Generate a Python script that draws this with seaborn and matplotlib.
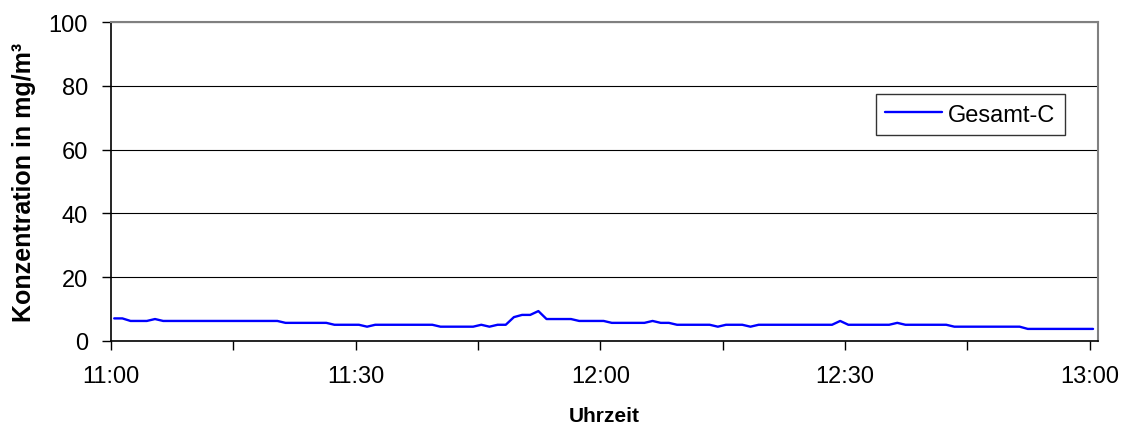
import numpy as np
import pandas as pd
import matplotlib
matplotlib.use("Agg")
import matplotlib.pyplot as plt
import matplotlib.dates as mdates
import seaborn as sns

# Gesamt-C readings, one per minute from 11:00:24 on
gesamt_c = [7.0, 7.0, 6.2, 6.2, 6.2, 6.8, 6.2, 6.2, 6.2, 6.2,
            6.2, 6.2, 6.2, 6.2, 6.2, 6.2, 6.2, 6.2, 6.2, 6.2,
            6.2, 5.6, 5.6, 5.6, 5.6, 5.6, 5.6, 5.0, 5.0, 5.0,
            5.0, 4.4, 5.0, 5.0, 5.0, 5.0, 5.0, 5.0, 5.0, 5.0,
            4.4, 4.4, 4.4, 4.4, 4.4, 5.0, 4.4, 5.0, 5.0, 7.4,
            8.1, 8.1, 9.3, 6.8, 6.8, 6.8, 6.8, 6.2, 6.2, 6.2,
            6.2, 5.6, 5.6, 5.6, 5.6, 5.6, 6.2, 5.6, 5.6, 5.0,
            5.0, 5.0, 5.0, 5.0, 4.4, 5.0, 5.0, 5.0, 4.4, 5.0,
            5.0, 5.0, 5.0, 5.0, 5.0, 5.0, 5.0, 5.0, 5.0, 6.2,
            5.0, 5.0, 5.0, 5.0, 5.0, 5.0, 5.6, 5.0, 5.0, 5.0,
            5.0, 5.0, 5.0, 4.4, 4.4, 4.4, 4.4, 4.4, 4.4, 4.4,
            4.4, 4.4, 3.7, 3.7, 3.7, 3.7, 3.7, 3.7, 3.7, 3.7,
            3.7]
start = "2000-01-01 11:00:24"
x_start = "2000-01-01 11:00"
x_end = "2000-01-01 13:01"
y_ticks = [0, 20, 40, 60, 80, 100]

times = pd.date_range(start, periods=len(gesamt_c), freq="1min")
df = pd.DataFrame({"Uhrzeit": times, "Gesamt-C": gesamt_c})

sns.set_style("white", {"text.color": "black", "axes.labelcolor": "black",
                        "xtick.color": "black", "ytick.color": "black"})
plt.rcParams['font.family'] = ['Liberation Sans', 'DejaVu Sans']

fig = plt.figure(figsize=(11.38, 4.35), dpi=100)
ax = fig.add_axes([0.0975, 0.2145, 0.8673, 0.732])

sns.lineplot(data=df, x="Uhrzeit", y="Gesamt-C", color="#0000FF",
             linewidth=1.7, label="Gesamt-C", ax=ax)

ax.set_xlim(pd.Timestamp(x_start), pd.Timestamp(x_end))
ax.set_ylim(0, 100)
ax.set_yticks(y_ticks)
ax.xaxis.set_major_locator(mdates.MinuteLocator(byminute=[0, 30]))
ax.xaxis.set_minor_locator(mdates.MinuteLocator(byminute=[15, 45]))
ax.xaxis.set_major_formatter(mdates.DateFormatter("%H:%M"))

ax.yaxis.grid(True, color="black", linewidth=0.8)
ax.set_axisbelow(True)
for s in ["top", "right"]:
    ax.spines[s].set_color("#808080")
    ax.spines[s].set_linewidth(1.5)
for s in ["left", "bottom"]:
    ax.spines[s].set_color("black")
    ax.spines[s].set_linewidth(1.2)

ax.tick_params(axis="both", which="both", direction="out", length=6.5,
               width=1, color="black", labelcolor="black", labelsize=17,
               bottom=True, left=True)
ax.tick_params(axis="x", pad=11)
ax.tick_params(axis="y", pad=10)

ax.set_xlabel("Uhrzeit", fontsize=15, fontweight="bold", labelpad=14, color="black")
ax.set_ylabel("Konzentration in mg/m³", fontsize=18, fontweight="bold", labelpad=9,
              color="black")

leg = ax.legend(loc="lower left", bbox_to_anchor=(0.775, 0.6455), fontsize=17,
                frameon=True, fancybox=False, handlelength=2.4, borderpad=0.4,
                handletextpad=0.25, borderaxespad=0)
leg.get_frame().set_edgecolor("black")
leg.get_frame().set_linewidth(1)
for t in leg.get_texts():
    t.set_color("black")

fig.savefig("out.png", dpi=100)
